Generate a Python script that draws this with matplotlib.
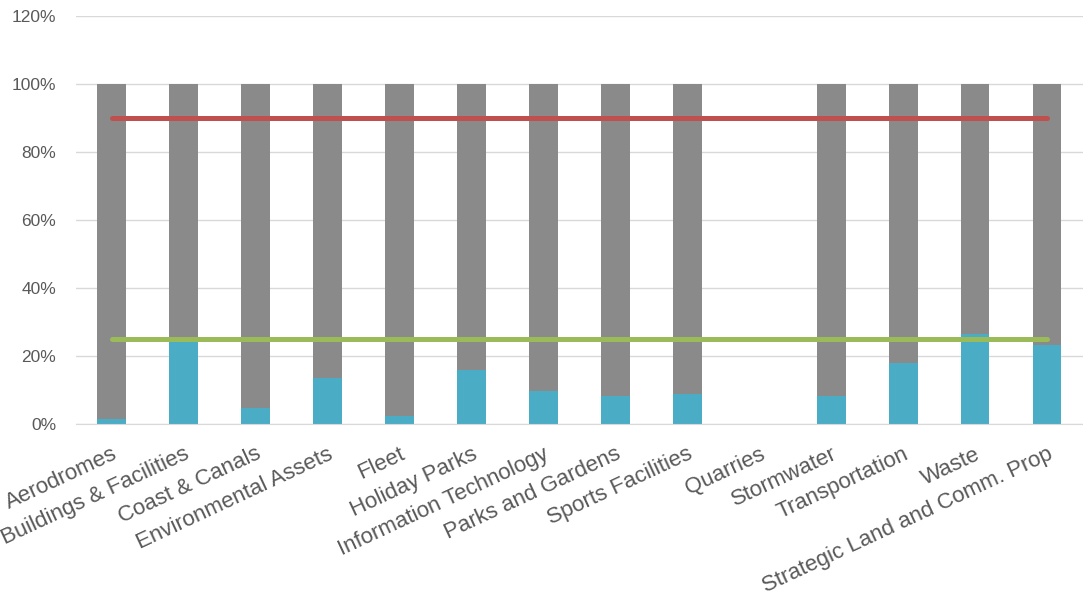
import numpy as np
import matplotlib
matplotlib.use("Agg")
import matplotlib.pyplot as plt
from matplotlib.ticker import FuncFormatter

categories = ["Aerodromes", "Buildings & Facilities", "Coast & Canals",
              "Environmental Assets", "Fleet", "Holiday Parks",
              "Information Technology", "Parks and Gardens", "Sports Facilities",
              "Quarries", "Stormwater", "Transportation", "Waste",
              "Strategic Land and Comm. Prop"]
# percent complete (blue) and total of bar (gray tops it up)
done = [1.4, 24.1, 4.8, 13.7, 2.4, 15.8, 9.7, 8.4, 8.9, 0, 8.4, 18.1, 26.4, 23.2]
total = [100, 100, 100, 100, 100, 100, 100, 100, 100, 0, 100, 100, 100, 100]
target_hi = [90] * 14
target_lo = [25] * 14

plt.rcParams['font.family'] = ['Liberation Sans', 'DejaVu Sans']

fig = plt.figure(figsize=(10.83, 6), dpi=100)
ax = fig.add_axes([0.070, 0.293, 0.930, 0.680])

x = np.arange(len(categories))
done = np.array(done)
rest = np.array(total) - done
rest[rest < 0] = 0

ax.bar(x, done, width=0.4, color='#4bacc6', zorder=2)
ax.bar(x, rest, width=0.4, bottom=done, color='#8a8a8a', zorder=2)
ax.plot(x, target_hi, color='#c0504d', lw=3.6, zorder=3, solid_capstyle='round')
ax.plot(x, target_lo, color='#9bbb59', lw=3.6, zorder=3, solid_capstyle='round')

ax.set_xlim(-0.5, len(categories) - 0.5)
ax.set_ylim(0, 120)
ax.set_yticks(np.arange(0, 121, 20))
ax.yaxis.set_major_formatter(FuncFormatter(lambda v, p: "%d%%" % v))
ax.grid(axis='y', color='#d9d9d9', lw=1, zorder=0)
for s in ['top', 'right', 'left']:
    ax.spines[s].set_visible(False)
ax.spines['bottom'].set_color('#d9d9d9')
ax.tick_params(axis='both', length=0, colors='#595959')
ax.tick_params(axis='y', labelsize=12.5, pad=14)

ax.set_xticks(x)
ax.set_xticklabels(categories, rotation=25, ha='right', va='top',
                   rotation_mode='anchor', fontsize=16, color='#595959')
ax.tick_params(axis='x', pad=14)

fig.savefig("out.png", dpi=100)
